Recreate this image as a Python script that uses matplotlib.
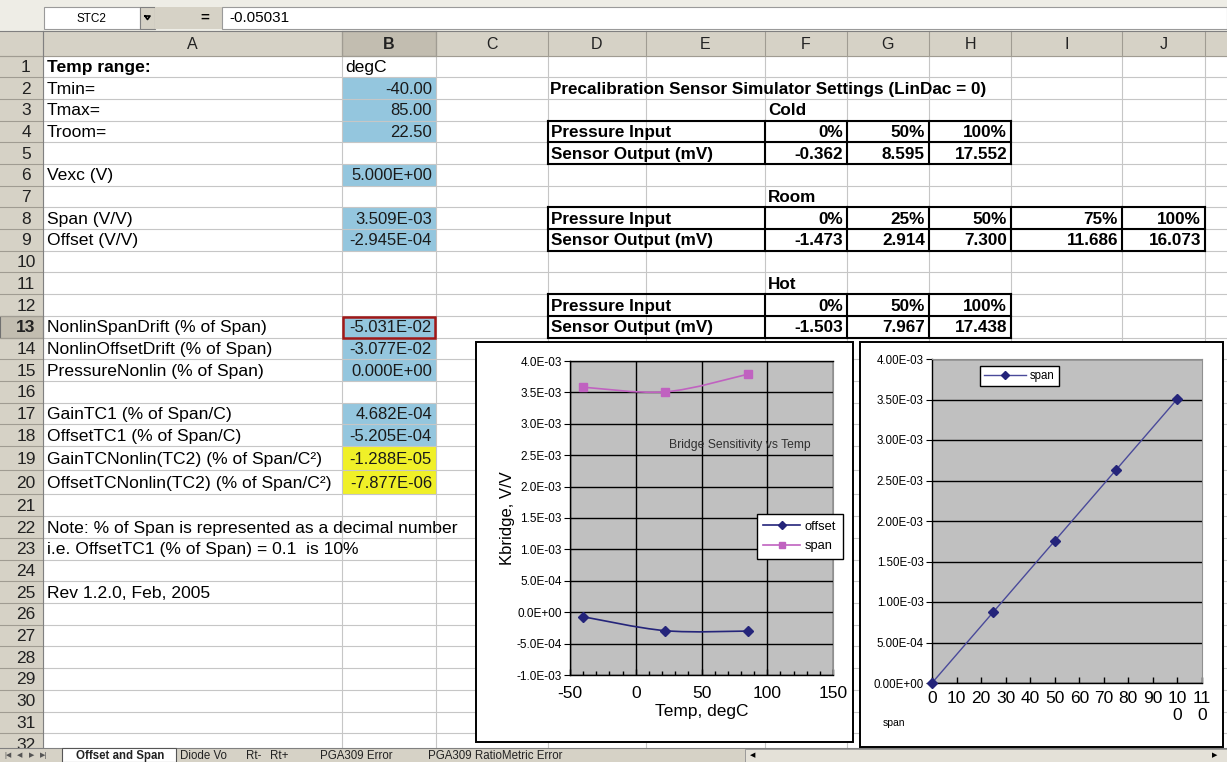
import numpy as np
import matplotlib.pyplot as plt
from matplotlib.patches import Rectangle, PathPatch
from matplotlib.path import Path
from matplotlib.lines import Line2D
from matplotlib.ticker import MultipleLocator, FuncFormatter

plt.rcParams['font.family'] = ['Liberation Sans', 'DejaVu Sans']
plt.rcParams['axes.unicode_minus'] = False

W, H = 1227, 762

# ---- worksheet contents ----
col_a = {
    1: 'Temp range:', 2: 'Tmin=', 3: 'Tmax=', 4: 'Troom=', 6: 'Vexc (V)',
    8: 'Span (V/V)', 9: 'Offset (V/V)',
    13: 'NonlinSpanDrift (% of Span)', 14: 'NonlinOffsetDrift (% of Span)',
    15: 'PressureNonlin (% of Span)', 17: 'GainTC1 (% of Span/C)',
    18: 'OffsetTC1 (% of Span/C)', 19: 'GainTCNonlin(TC2) (% of Span/C²)',
    20: 'OffsetTCNonlin(TC2) (% of Span/C²)',
    22: 'Note: % of Span is represented as a decimal number',
    23: 'i.e. OffsetTC1 (% of Span) = 0.1  is 10%',
    25: 'Rev 1.2.0, Feb, 2005',
}
col_b = {
    2: '-40.00', 3: '85.00', 4: '22.50', 6: '5.000E+00', 8: '3.509E-03',
    9: '-2.945E-04', 13: '-5.031E-02', 14: '-3.077E-02', 15: '0.000E+00',
    17: '4.682E-04', 18: '-5.205E-04', 19: '-1.288E-05', 20: '-7.877E-06',
}
blue_rows = [2, 3, 4, 6, 8, 9, 13, 14, 15, 17, 18]
yellow_rows = [19, 20]

table_title = 'Precalibration Sensor Simulator Settings (LinDac = 0)'
cold_pct = ['0%', '50%', '100%']
cold_mv = ['-0.362', '8.595', '17.552']
room_pct = ['0%', '25%', '50%', '75%', '100%']
room_mv = ['-1.473', '2.914', '7.300', '11.686', '16.073']
hot_pct = ['0%', '50%', '100%']
hot_mv = ['-1.503', '7.967', '17.438']

sheet_tabs = ['Offset and Span', 'Diode Vo', 'Rt-', 'Rt+', 'PGA309 Error',
              'PGA309 RatioMetric Error']

# ---- chart data ----
temp_c = [-40, 22.5, 85]
offset_vv = [-7.24e-5, -2.945e-4, -3.006e-4]
span_vv = [3.583e-3, 3.509e-3, 3.788e-3]
pressure_pct = [0, 25, 50, 75, 100]
span_out = [0.0, 8.7725e-4, 1.7545e-3, 2.63175e-3, 3.509e-3]

# ---- geometry (pixels) ----
col_edges = [0, 43, 342, 436, 548, 646, 765, 847, 929, 1011, 1122, 1205, 1227]
col_names = ['A', 'B', 'C', 'D', 'E', 'F', 'G', 'H', 'I', 'J', 'K']
hdr_top, hdr_bot = 31, 55.5
heights = [21.7] * 32
heights[18] = heights[19] = 24.2
row_edges = np.concatenate([[hdr_bot], hdr_bot + np.cumsum(heights)])
tab_top = 748


def row_mid(r):
    return (row_edges[r - 1] + row_edges[r]) / 2


HDR = '#d6d2c6'
BLUE = '#94c6de'
YELLOW = '#f0f028'
GRID = '#c6c6c6'
FS_CELL = 12.6
FS_TABLE = 12.3

fig = plt.figure(figsize=(W / 100, H / 100), dpi=100)
sh = fig.add_axes([0, 0, 1, 1])
sh.set_xlim(0, W)
sh.set_ylim(H, 0)
sh.axis('off')

# cell fills
for r in blue_rows:
    sh.add_patch(Rectangle((col_edges[2], row_edges[r - 1]), col_edges[3] - col_edges[2],
                           row_edges[r] - row_edges[r - 1], fc=BLUE, ec='none', zorder=1))
for r in yellow_rows:
    sh.add_patch(Rectangle((col_edges[2], row_edges[r - 1]), col_edges[3] - col_edges[2],
                           row_edges[r] - row_edges[r - 1], fc=YELLOW, ec='none', zorder=1))

# grid lines
for x in col_edges[1:-1]:
    sh.plot([x, x], [hdr_bot, tab_top], color=GRID, lw=0.8, zorder=2)
for y in row_edges:
    if y < tab_top:
        sh.plot([col_edges[1], W], [y, y], color=GRID, lw=0.8, zorder=2)

# formula bar
sh.add_patch(Rectangle((0, 0), W, hdr_top, fc='#eeede6', ec='none', zorder=3))
sh.add_patch(Rectangle((44, 7), 96, 22, fc='white', ec='#9a9a9a', lw=0.8, zorder=4))
sh.add_patch(Rectangle((140, 7), 15, 22, fc=HDR, ec='#808080', lw=0.8, zorder=4))
sh.plot([145, 150, 147.5, 145], [16, 16, 19.5, 16], color='black', lw=1.2, zorder=5)
sh.add_patch(Rectangle((155, 7), 67, 22, fc=HDR, ec='none', zorder=4))
sh.add_patch(Rectangle((222, 7), W - 222, 22, fc='white', ec='#9a9a9a', lw=0.8, zorder=4))
sh.text(91, 18.5, 'STC2', ha='center', va='center', fontsize=8.5, zorder=5)
sh.text(205, 17.5, '=', ha='center', va='center', fontsize=11, weight='bold', zorder=5)
sh.text(229, 18, '-0.05031', ha='left', va='center', fontsize=11, zorder=5)

# column headers
sh.add_patch(Rectangle((0, hdr_top), W, hdr_bot - hdr_top, fc=HDR, ec='none', zorder=3))
sh.add_patch(Rectangle((col_edges[2], hdr_top), col_edges[3] - col_edges[2],
                       hdr_bot - hdr_top, fc='#c2bdb0', ec='#707070', lw=0.8, zorder=3))
for i, name in enumerate(col_names):
    x0, x1 = col_edges[i + 1], col_edges[i + 2]
    sh.plot([x0, x0], [hdr_top, hdr_bot], color='#a09c92', lw=0.8, zorder=4)
    if name == 'K':
        continue
    sh.text((x0 + x1) / 2, (hdr_top + hdr_bot) / 2 + 1, name, ha='center', va='center',
            fontsize=11.5, weight='bold' if name == 'B' else 'normal', color='#222222', zorder=5)
sh.plot([0, W], [hdr_bot, hdr_bot], color='#a09c92', lw=0.8, zorder=4)
sh.plot([0, W], [hdr_top, hdr_top], color='#808080', lw=0.8, zorder=4)

# row headers
sh.add_patch(Rectangle((0, hdr_bot), col_edges[1], tab_top - hdr_bot, fc=HDR, ec='none', zorder=3))
sh.add_patch(Rectangle((0, row_edges[12]), col_edges[1], row_edges[13] - row_edges[12],
                       fc='#c2bdb0', ec='#707070', lw=0.8, zorder=3))
for r in range(1, 33):
    y0 = row_edges[r - 1]
    sh.plot([0, col_edges[1]], [y0, y0], color='#a09c92', lw=0.8, zorder=4)
    if row_mid(r) < tab_top:
        sh.text(26, row_mid(r) + 1, str(r), ha='center', va='center', fontsize=12.5,
                weight='bold' if r == 13 else 'normal', color='#222222', zorder=5)
sh.plot([col_edges[1], col_edges[1]], [hdr_top, tab_top], color='#808080', lw=0.8, zorder=4)

# column A / B text
for r, s in col_a.items():
    sh.text(col_edges[1] + 4, row_mid(r) + 1, s, ha='left', va='center', fontsize=FS_CELL,
            weight='bold' if r == 1 else 'normal', zorder=5)
sh.text(col_edges[2] + 3, row_mid(1) + 1, 'degC', ha='left', va='center', fontsize=FS_CELL, zorder=5)
for r, s in col_b.items():
    sh.text(col_edges[3] - 4, row_mid(r) + 1, s, ha='right', va='center', fontsize=12,
            color='#1a1a1a', zorder=5)

# active cell
sh.add_patch(Rectangle((col_edges[2] + 1, row_edges[12] + 1), col_edges[3] - col_edges[2] - 2,
                       row_edges[13] - row_edges[12] - 1, fc='none', ec='#a01818', lw=1.8, zorder=6))

# calibration tables
sh.text(col_edges[4] + 2, row_mid(2) + 1, table_title, ha='left', va='center',
        fontsize=FS_TABLE, weight='bold', zorder=5)


def cal_table(label_row, label, top_row, pct, mv):
    sh.text(col_edges[6] + 3, row_mid(label_row) + 1, label, ha='left', va='center',
            fontsize=FS_TABLE, weight='bold', zorder=5)
    x_left = col_edges[4]
    x_right = col_edges[6 + len(pct)]
    y0, y1, y2 = row_edges[top_row - 1], row_edges[top_row], row_edges[top_row + 1]
    sh.text(x_left + 3, row_mid(top_row) + 1, 'Pressure Input', ha='left', va='center',
            fontsize=FS_TABLE, weight='bold', zorder=5)
    sh.text(x_left + 3, row_mid(top_row + 1) + 1, 'Sensor Output (mV)', ha='left',
            va='center', fontsize=FS_TABLE, weight='bold', zorder=5)
    for k, (p, v) in enumerate(zip(pct, mv)):
        xr = col_edges[7 + k] - 4
        sh.text(xr, row_mid(top_row) + 1, p, ha='right', va='center', fontsize=FS_TABLE,
                weight='bold', zorder=5)
        sh.text(xr, row_mid(top_row + 1) + 1, v, ha='right', va='center', fontsize=FS_TABLE,
                weight='bold', zorder=5)
    kw = dict(color='black', lw=1.5, zorder=6, solid_capstyle='projecting')
    for y in (y0, y1, y2):
        sh.plot([x_left, x_right], [y, y], **kw)
    for x in [x_left] + col_edges[6:7 + len(pct)]:
        sh.plot([x, x], [y0, y2], **kw)


cal_table(3, 'Cold', 4, cold_pct, cold_mv)
cal_table(7, 'Room', 8, room_pct, room_mv)
cal_table(11, 'Hot', 12, hot_pct, hot_mv)

# sheet tab bar
sh.add_patch(Rectangle((0, tab_top), W, H - tab_top, fc=HDR, ec='none', zorder=7))
sh.plot([0, W], [tab_top, tab_top], color='#808080', lw=0.8, zorder=8)
for x, s in zip([8, 20, 32, 44], ['|◀', '◀', '▶', '▶|']):
    sh.text(x, 755.5, s, ha='center', va='center', fontsize=5, color='#555555', zorder=8)
sh.add_patch(Rectangle((62, tab_top), 114, 14, fc='white', ec='#555555', lw=0.8, zorder=8))
tab_x = [76, 180, 246, 270, 320, 428]
for x, s in zip(tab_x, sheet_tabs):
    sh.text(x, 756, s, ha='left', va='center', fontsize=8.3,
            weight='bold' if s == sheet_tabs[0] else 'normal', color='#222222', zorder=9)
sh.add_patch(Rectangle((745, tab_top + 1), W - 745, 13, fc='#e4e1d8', ec='#909090', lw=0.6, zorder=8))
sh.text(753, 755.5, '◀', ha='center', va='center', fontsize=5, zorder=9)
sh.text(1215, 755.5, '▶', ha='center', va='center', fontsize=5, zorder=9)

# chart frames
sh.add_patch(Rectangle((476, 342), 377, 400, fc='white', ec='black', lw=1.4, zorder=10))
sh.add_patch(Rectangle((860, 342), 363, 405, fc='white', ec='black', lw=1.4, zorder=10))


def smooth_path(xs, ys):
    # bezier segments through the points, like a smoothed spreadsheet line
    pts = np.column_stack([xs, ys])
    n = len(pts)
    verts, codes = [pts[0]], [Path.MOVETO]
    for i in range(n - 1):
        p0, p1 = pts[max(i - 1, 0)], pts[i]
        p2, p3 = pts[i + 1], pts[min(i + 2, n - 1)]
        verts += [p1 + (p2 - p0) / 6, p2 - (p3 - p1) / 6, p2]
        codes += [Path.CURVE4] * 3
    return Path(verts, codes)


def fig_rect(x0, y0, x1, y1):
    return [x0 / W, 1 - y1 / H, (x1 - x0) / W, (y1 - y0) / H]


NAVY = '#24247a'
PINK = '#c062c0'

# ---- Bridge sensitivity vs temperature ----
ax1 = fig.add_axes(fig_rect(570, 361, 833, 675))
ax1.set_facecolor('#c0c0c0')
ax1.set_xlim(-50, 150)
ax1.set_ylim(-1e-3, 4e-3)
ax1.xaxis.set_major_locator(MultipleLocator(50))
ax1.xaxis.set_minor_locator(MultipleLocator(10))
ax1.yaxis.set_major_locator(MultipleLocator(5e-4))
ax1.yaxis.set_major_formatter(FuncFormatter(lambda v, p: f'{v:.1E}'))
ax1.grid(True, which='major', color='black', lw=1.0)
ax1.set_axisbelow(True)
ax1.tick_params(axis='x', which='both', direction='in', labelsize=12.5, pad=8, length=4, width=1)
ax1.tick_params(axis='x', which='minor', length=3)
ax1.tick_params(axis='y', direction='out', labelsize=8.5, length=4, pad=2)
for side in ('left', 'bottom', 'top'):
    ax1.spines[side].set_color('black')
    ax1.spines[side].set_linewidth(1.0)
ax1.spines['right'].set_color('#909090')
ax1.add_patch(PathPatch(smooth_path(temp_c, offset_vv), fill=False, ec=NAVY, lw=1.2, zorder=3))
ax1.add_patch(PathPatch(smooth_path(temp_c, span_vv), fill=False, ec=PINK, lw=1.2, zorder=3))
ax1.plot(temp_c, offset_vv, ls='none', marker='D', ms=5.5, color=NAVY, zorder=4, clip_on=False)
ax1.plot(temp_c, span_vv, ls='none', marker='s', ms=6, color=PINK, zorder=4, clip_on=False)
ax1.set_xlabel('Temp, degC', fontsize=12.5, labelpad=2)
ax1.set_ylabel('Kbridge, V/V', fontsize=12, labelpad=1)
ax1.text(0.645, 0.732, 'Bridge Sensitivity vs Temp', transform=ax1.transAxes,
         ha='center', va='center', fontsize=8.7, color='#303030')
handles = [Line2D([], [], color=NAVY, marker='D', ms=4.5, lw=1.2),
           Line2D([], [], color=PINK, marker='s', ms=5, lw=1.2)]
ax1.legend(handles, ['offset', 'span'], loc='upper left',
           bbox_to_anchor=(757 / W, 1 - 514 / H), bbox_transform=fig.transFigure,
           fontsize=9.3, frameon=True, fancybox=False, edgecolor='black', framealpha=1,
           handlelength=2.8, borderpad=0.5, labelspacing=0.6, handletextpad=0.4,
           borderaxespad=0)

# ---- span vs pressure ----
ax2 = fig.add_axes(fig_rect(932, 359, 1202, 683))
ax2.set_facecolor('#c0c0c0')
ax2.set_xlim(0, 110)
ax2.set_ylim(0, 4e-3)
ax2.set_xticks(np.arange(0, 111, 10))
ax2.set_xticklabels([str(v) if v < 100 else f'{str(v)[:2]}\n{str(v)[2:]}'
                     for v in range(0, 111, 10)])
ax2.yaxis.set_major_locator(MultipleLocator(5e-4))
ax2.yaxis.set_major_formatter(FuncFormatter(lambda v, p: f'{v:.2E}'))
ax2.grid(True, axis='y', color='black', lw=1.0)
ax2.set_axisbelow(True)
ax2.tick_params(axis='x', direction='in', labelsize=12.5, pad=6, length=4, width=1)
for lab in ax2.get_xticklabels():
    lab.set_verticalalignment('top')
    lab.set_linespacing(1.1)
ax2.tick_params(axis='y', direction='out', labelsize=8.3, length=4, pad=2)
for side in ('left', 'bottom'):
    ax2.spines[side].set_color('black')
    ax2.spines[side].set_linewidth(1.0)
for side in ('right', 'top'):
    ax2.spines[side].set_color('#909090')
ax2.plot(pressure_pct, span_out, color='#4a4a9a', lw=1.0, marker='D', ms=5.5,
         mfc=NAVY, mec=NAVY, clip_on=False, zorder=4)
ax2.legend([Line2D([], [], color='#4a4a9a', marker='D', ms=4.5, mfc=NAVY, mec=NAVY, lw=1.0)],
           ['span'], loc='upper left', bbox_to_anchor=(980 / W, 1 - 366 / H),
           bbox_transform=fig.transFigure, fontsize=8.3, frameon=True, fancybox=False,
           edgecolor='black', framealpha=1, handlelength=3.6, borderpad=0.35,
           handletextpad=0.4, borderaxespad=0)
fig.text(894 / W, 1 - 723 / H, 'span', ha='center', va='center', fontsize=7.5)

fig.savefig('out.png', dpi=100)
